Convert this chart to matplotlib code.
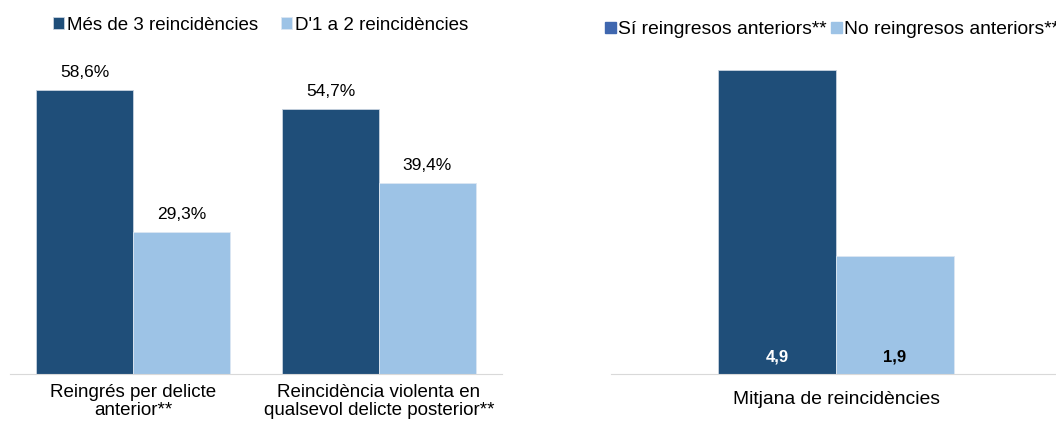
import matplotlib.pyplot as plt
import numpy as np

plt.rcParams['font.family'] = ['Liberation Sans', 'DejaVu Sans']

# dades panell esquerre
categories = ['Reingrés per delicte\nanterior**', 'Reincidència violenta en\nqualsevol delicte posterior**']
mes_de_3 = [58.6, 54.7]
d1_a_2 = [29.3, 39.4]
labels_left = ['Més de 3 reincidències', "D'1 a 2 reincidències"]

# dades panell dret
categoria_dreta = ['Mitjana de reincidències']
si_reingresos = [4.9]
no_reingresos = [1.9]
labels_right = ['Sí reingresos anteriors**', 'No reingresos anteriors**']

fosc = '#1F4E79'
clar = '#9DC3E6'
gris = '#D9D9D9'

fig = plt.figure(figsize=(10.56, 4.29), dpi=100)
W, H = 1056, 429

# Panell esquerre
ax1 = fig.add_axes([10 / W, 55 / H, 492 / W, 315 / H])
x = np.arange(len(categories))
w = 0.394
b1 = ax1.bar(x - w / 2, mes_de_3, w, color=fosc, edgecolor='#C8D3DF', linewidth=0.6)
b2 = ax1.bar(x + w / 2, d1_a_2, w, color=clar, edgecolor='#DCE7F2', linewidth=0.6)
ax1.set_xlim(-0.5, 1.5)
ax1.set_ylim(0, 65)
for bars in (b1, b2):
    for r in bars:
        ax1.text(r.get_x() + r.get_width() / 2, r.get_height() + 2.1,
                 f'{r.get_height():.1f}%'.replace('.', ','),
                 ha='center', va='bottom', fontsize=12.5)
ax1.set_xticks(x)
ax1.set_xticklabels(categories, fontsize=13.5, linespacing=1.12)
ax1.tick_params(axis='x', length=0, pad=7)
ax1.set_yticks([])
for s in ['top', 'right', 'left']:
    ax1.spines[s].set_visible(False)
ax1.spines['bottom'].set_color(gris)

leg1 = fig.legend([b1, b2], labels_left, loc='center left', bbox_to_anchor=(53 / W, 1 - 25 / H),
                  ncol=2, frameon=False, fontsize=13.5, handlelength=0.6, handleheight=0.6,
                  handletextpad=0.15, columnspacing=1.2, borderaxespad=0, borderpad=0)

# Panell dret
ax2 = fig.add_axes([611 / W, 55 / H, 450 / W, 341 / H])
w2 = 0.262
c1 = ax2.bar([-w2 / 2], si_reingresos, w2, color=fosc, edgecolor='#C8D3DF', linewidth=0.6)
c2 = ax2.bar([w2 / 2], no_reingresos, w2, color=clar, edgecolor='#DCE7F2', linewidth=0.6)
ax2.set_xlim(-0.5, 0.5)
ax2.set_ylim(0, 5.5)
ax2.text(-w2 / 2, 0.28, f'{si_reingresos[0]:.1f}'.replace('.', ','), ha='center', va='center',
         fontsize=12, fontweight='bold', color='white')
ax2.text(w2 / 2, 0.28, f'{no_reingresos[0]:.1f}'.replace('.', ','), ha='center', va='center',
         fontsize=12, fontweight='bold', color='black')
ax2.set_xticks([0])
ax2.set_xticklabels(categoria_dreta, fontsize=13.9)
ax2.tick_params(axis='x', length=0, pad=12)
ax2.set_yticks([])
for s in ['top', 'right', 'left']:
    ax2.spines[s].set_visible(False)
ax2.spines['bottom'].set_color(gris)

h1 = plt.Rectangle((0, 0), 1, 1, color='#3F67AF')
h2 = plt.Rectangle((0, 0), 1, 1, color=clar)
leg2 = fig.legend([h1, h2], labels_right, loc='center left', bbox_to_anchor=(605 / W, 1 - 30 / H),
                  ncol=2, frameon=False, fontsize=13.9, handlelength=0.55, handleheight=0.55,
                  handletextpad=0.1, columnspacing=0.25, borderaxespad=0, borderpad=0)

fig.savefig('out.png', dpi=100)
